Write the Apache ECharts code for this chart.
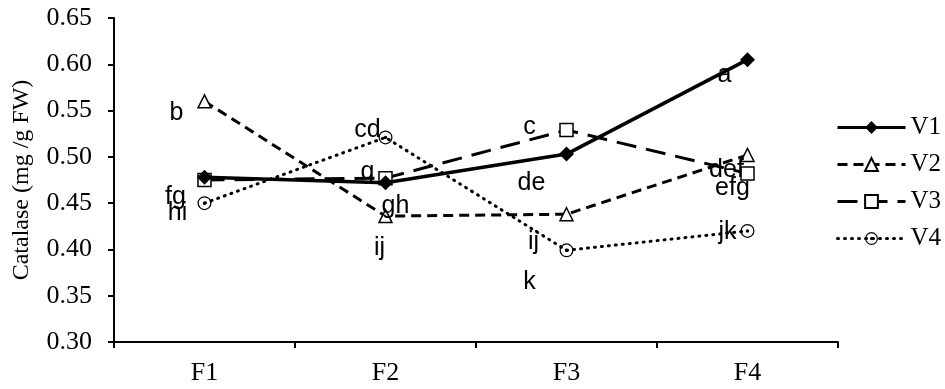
<!DOCTYPE html>
<html>
<head>
    <meta charset="utf-8">
    <script src="https://cdn.jsdelivr.net/npm/echarts@6/dist/echarts.min.js"></script>
    <style>
        html, body { margin: 0; padding: 0; background: #fff; }
    </style>
</head>
<body>
<div id="main" style="width: 945px;height: 389px;"></div>
<script type="text/javascript">
    // data
    var categories = ['F1', 'F2', 'F3', 'F4'];
    var v1 = [0.478, 0.472, 0.503, 0.605];
    var v2 = [0.560, 0.436, 0.438, 0.502];
    var v3 = [0.475, 0.477, 0.529, 0.482];
    var v4 = [0.450, 0.521, 0.399, 0.420];
    // significance letters, '' = none shown
    var v1Letters = ['', 'gh', 'de', 'a'];
    var v2Letters = ['b', 'ij', 'ij', 'def'];
    var v3Letters = ['fg', 'g', 'c', 'efg'];
    var v4Letters = ['hi', 'cd', 'k', 'jk'];

    // where each letter sits relative to its point (px)
    var v1Off = [[0, 0], [10, 23], [-35, 29], [-23, 15]];
    var v2Off = [[-28, 12], [-6, 32], [-33, 28], [-21, 15]];
    var v3Off = [[-29, 17], [-18, -6], [-37, -3], [-15, 15]];
    var v4Off = [[-27, 10], [-18, -7], [-37, 32], [-20, 1]];

    var serif = '"Liberation Serif", "Times New Roman", serif';
    var sans = '"Liberation Sans", Arial, sans-serif';

    function withLetters(values, letters, offs) {
        var out = [];
        for (var i = 0; i < values.length; i++) {
            out.push({
                value: values[i],
                label: {
                    show: letters[i] !== '',
                    formatter: letters[i],
                    position: 'inside',
                    offset: offs[i],
                    fontFamily: sans,
                    fontSize: 25,
                    color: '#000'
                }
            });
        }
        return out;
    }

    // ring with a dot in the middle
    var dotCircle = 'path://M10,0 A10,10 0 1,1 10,20 A10,10 0 1,1 10,0 Z M10,1.8 A8.2,8.2 0 1,0 10,18.2 A8.2,8.2 0 1,0 10,1.8 Z M10,7.5 A2.5,2.5 0 1,1 10,12.5 A2.5,2.5 0 1,1 10,7.5 Z';

    var myChart = echarts.init(document.getElementById('main'));

    var option = {
        animation: false,
        backgroundColor: '#fff',
        grid: {
            left: 114,
            right: 107,
            top: 18,
            bottom: 47
        },
        legend: {
            orient: 'vertical',
            left: 831,
            top: 110,
            itemWidth: 68,
            itemHeight: 16,
            itemGap: 12,
            lineStyle: { width: 3 },
            textStyle: {
                fontFamily: serif,
                fontSize: 25,
                color: '#000'
            },
            data: ['V1', 'V2', 'V3', 'V4']
        },
        xAxis: {
            type: 'category',
            data: categories,
            axisLine: { lineStyle: { color: '#000', width: 2 } },
            axisTick: { show: true, length: 6, lineStyle: { color: '#000', width: 2 } },
            axisLabel: {
                fontFamily: serif,
                fontSize: 26,
                color: '#000',
                margin: 18
            }
        },
        yAxis: {
            type: 'value',
            min: 0.30,
            max: 0.65,
            interval: 0.05,
            name: 'Catalase (mg /g FW)',
            nameLocation: 'middle',
            nameGap: 80,
            nameTextStyle: {
                fontFamily: serif,
                fontSize: 24,
                color: '#000'
            },
            axisLine: { show: true, lineStyle: { color: '#000', width: 2 } },
            axisTick: { show: true, length: 6, lineStyle: { color: '#000', width: 2 } },
            splitLine: { show: false },
            axisLabel: {
                fontFamily: serif,
                fontSize: 26,
                color: '#000',
                margin: 22,
                formatter: function (v) { return v.toFixed(2); }
            }
        },
        series: [
            {
                name: 'V1',
                type: 'line',
                data: withLetters(v1, v1Letters, v1Off),
                symbol: 'diamond',
                symbolSize: 15,
                lineStyle: { color: '#000', width: 3.5, type: 'solid' },
                itemStyle: { color: '#000' },
                z: 5
            },
            {
                name: 'V2',
                type: 'line',
                data: withLetters(v2, v2Letters, v2Off),
                symbol: 'triangle',
                symbolSize: 13,
                lineStyle: { color: '#000', width: 3, type: [10, 6] },
                itemStyle: { color: '#fff', borderColor: '#000', borderWidth: 1.5 },
                z: 4
            },
            {
                name: 'V3',
                type: 'line',
                data: withLetters(v3, v3Letters, v3Off),
                symbol: 'rect',
                symbolSize: 13,
                lineStyle: { color: '#000', width: 3, type: [20, 10] },
                itemStyle: { color: '#fff', borderColor: '#000', borderWidth: 1.5 },
                z: 3
            },
            {
                name: 'V4',
                type: 'line',
                data: withLetters(v4, v4Letters, v4Off),
                symbol: dotCircle,
                symbolSize: 14,
                lineStyle: { color: '#000', width: 3, type: [1, 6], cap: 'round' },
                itemStyle: { color: '#000' },
                z: 2
            }
        ]
    };

    myChart.setOption(option);
</script>
</body>
</html>
